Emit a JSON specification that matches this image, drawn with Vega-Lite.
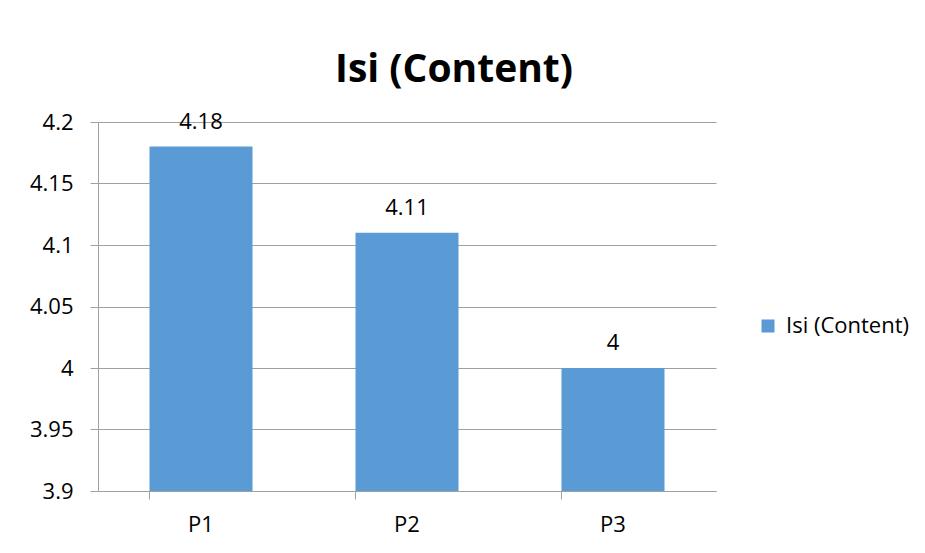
{
  "$schema": "https://vega.github.io/schema/vega-lite/v6.json",
  "autosize": {"type": "none"},
  "width": 618,
  "height": 369,
  "padding": {"left": 98, "top": 122, "right": 209, "bottom": 62},
  "background": "white",
  "data": {"values": [
    {"cat": "P1", "value": 4.18, "series": "Isi (Content)"},
    {"cat": "P2", "value": 4.11, "series": "Isi (Content)"},
    {"cat": "P3", "value": 4.0, "series": "Isi (Content)"}
  ]},
  "title": {
    "text": "Isi (Content)",
    "font": "Open Sans",
    "fontSize": 39,
    "fontWeight": "bold",
    "color": "#000000",
    "anchor": "middle",
    "frame": "group",
    "dx": 47,
    "offset": 21
  },
  "config": {
    "view": {"stroke": null},
    "font": "Open Sans"
  },
  "encoding": {
    "x": {
      "field": "cat",
      "type": "nominal",
      "scale": {"paddingInner": 0.5, "paddingOuter": 0.25},
      "axis": {
        "title": null,
        "labelAngle": 0,
        "labelFont": "Open Sans",
        "labelFontSize": 22,
        "labelColor": "#000000",
        "labelPadding": 15,
        "bandPosition": 0,
        "tickSize": 8,
        "tickColor": "#a0a0a0",
        "domainColor": "#a0a0a0",
        "grid": false
      }
    },
    "y": {
      "field": "value",
      "type": "quantitative",
      "scale": {"domain": [3.9, 4.2], "zero": false, "nice": false},
      "axis": {
        "title": null,
        "values": [3.9, 3.95, 4.0, 4.05, 4.1, 4.15, 4.2],
        "labelExpr": "datum.value == 4 ? '4' : format(datum.value, '.3~f')",
        "labelFont": "Open Sans",
        "labelFontSize": 22,
        "labelColor": "#000000",
        "labelPadding": 17,
        "tickSize": 8,
        "tickColor": "#a0a0a0",
        "domainColor": "#a0a0a0",
        "gridColor": "#a0a0a0",
        "gridWidth": 1,
        "grid": true
      }
    }
  },
  "layer": [
    {
      "mark": {"type": "bar", "color": "#5B9BD5"},
      "encoding": {
        "y2": {"datum": 3.9},
        "color": {
          "field": "series",
          "type": "nominal",
          "scale": {"range": ["#5B9BD5"]},
          "legend": {
            "title": null,
            "orient": "none",
            "legendX": 659,
            "legendY": 193,
            "symbolType": "square",
            "symbolSize": 169,
            "symbolStrokeWidth": 0,
            "labelFont": "Open Sans",
            "labelFontSize": 22,
            "labelColor": "#000000",
            "labelOffset": 7
          }
        }
      }
    },
    {
      "mark": {"type": "text", "baseline": "alphabetic", "dy": -18, "font": "Open Sans", "fontSize": 22, "color": "#000000"},
      "encoding": {
        "text": {"field": "value", "type": "quantitative", "format": "~g"}
      }
    }
  ]
}
